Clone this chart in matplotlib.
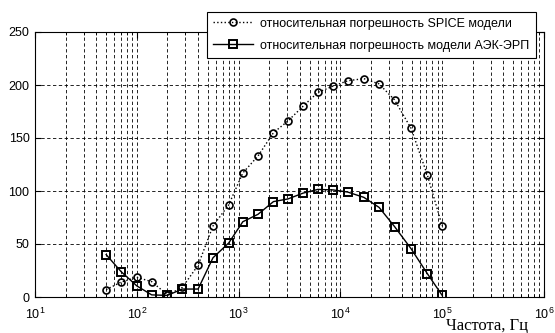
import matplotlib
matplotlib.use('Agg')
import matplotlib.pyplot as plt
from matplotlib.ticker import LogLocator, NullFormatter

plt.rcParams['font.family'] = ['Liberation Sans', 'DejaVu Sans']
plt.rcParams['mathtext.default'] = 'regular'

# Frequencies, Hz
freq = [50, 70, 100, 140, 200, 280, 400, 560, 800, 1100, 1550, 2200, 3050,
        4300, 6000, 8500, 11800, 17000, 24000, 34000, 49500, 71500, 100000]

# Relative error of the SPICE model, %
err_spice = [7, 14, 18.5, 14.5, 2, 9, 30, 67, 87, 117, 133, 155, 166,
             180, 193, 199, 204, 206, 201, 186, 159, 115, 67]

# Relative error of the AEK-ERP model, %
err_aek = [40, 24, 10.5, 2, 1.5, 7.5, 7.5, 37, 51, 71, 78, 90, 92.5,
           98, 101.5, 101, 99, 94, 84.5, 66.5, 45.5, 22, 1.5]

labels = ['относительная погрешность SPICE модели',
          'относительная погрешность модели АЭК-ЭРП']

fig = plt.figure(figsize=(5.55, 3.33), dpi=100)
ax = fig.add_axes([35 / 555, 36 / 333, 509 / 555, 265 / 333])

ax.semilogx(freq, err_spice, linestyle=':', color='black', linewidth=1.0,
            marker='o', markersize=5, markerfacecolor='none',
            markeredgewidth=1.2, label=labels[0])
ax.semilogx(freq, err_aek, linestyle='-', color='black', linewidth=1.0,
            marker='s', markersize=6, markerfacecolor='none',
            markeredgewidth=1.4, label=labels[1])

ax.set_xlim(10, 1e6)
ax.set_ylim(0, 250)
ax.set_yticks([0, 50, 100, 150, 200, 250])
ax.xaxis.set_major_locator(LogLocator(base=10, numticks=10))
ax.xaxis.set_minor_locator(LogLocator(base=10, subs=range(2, 10), numticks=20))
ax.xaxis.set_minor_formatter(NullFormatter())

ax.grid(True, which='both', axis='x', color='black',
        linestyle=(0, (4, 3)), linewidth=0.6)
ax.grid(True, which='major', axis='y', color='black',
        linestyle=(0, (4, 3)), linewidth=0.6)

ax.tick_params(which='both', direction='in', top=True, right=True,
               labelsize=9, color='black')
ax.tick_params(which='major', length=4)
ax.tick_params(which='minor', length=2)
ax.tick_params(axis='x', which='major', pad=7)
ax.tick_params(axis='y', which='major', pad=4)
for s in ax.spines.values():
    s.set_linewidth(0.8)

leg = ax.legend(loc='upper right', bbox_to_anchor=(0.984, 1.077),
                borderaxespad=0, fontsize=9, frameon=True, fancybox=False,
                framealpha=1, edgecolor='black', borderpad=0.5,
                handlelength=3.2, labelspacing=0.8, handletextpad=0.6)
leg.get_frame().set_linewidth(0.8)

fig.text(446 / 555, 1 - 318 / 333, 'Частота, Гц', family='Liberation Serif',
         fontsize=12, ha='left', va='top')

fig.savefig('out.png', dpi=100)
